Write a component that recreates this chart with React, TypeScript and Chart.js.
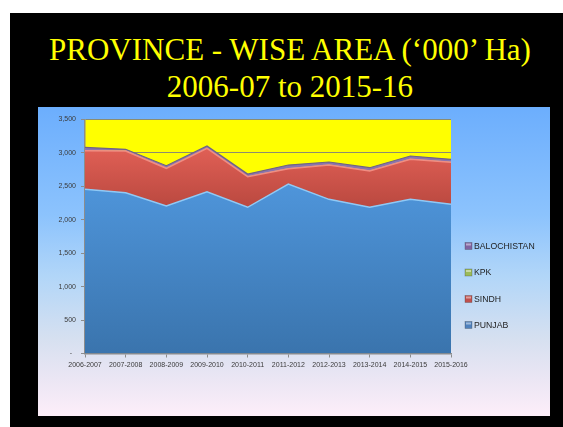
import React, { useEffect, useRef } from 'react';
import { Chart, registerables } from 'chart.js';

Chart.register(...registerables);

const categories = [
  '2006-2007', '2007-2008', '2008-2009', '2009-2010', '2010-2011',
  '2011-2012', '2012-2013', '2013-2014', '2014-2015', '2015-2016',
];
const punjab = [2456, 2405, 2206, 2420, 2187, 2535, 2306, 2187, 2306, 2231];
const sindh = [577, 624, 564, 649, 457, 228, 513, 543, 598, 629];
const kpk = [2, 2, 2, 2, 1, 2, 2, 2, 2, 2];
const balochistan = [48, 23, 37, 32, 40, 54, 43, 47, 48, 42];
const seriesNames = ['PUNJAB', 'SINDH', 'KPK', 'BALOCHISTAN'];
const legendColors = ['#4f81bd', '#c0504d', '#9bbb59', '#8064a2'];
const yMax = 3500;
const yStep = 500;
const titleLines = ['PROVINCE - WISE AREA (\u2018000\u2019 Ha)', '2006-07 to 2015-16'];

const FONT = '"Liberation Sans", Arial, sans-serif';

function vGrad(stops: [number, string][]) {
  return (ctx: any) => {
    const chart = ctx.chart;
    const area = chart.chartArea;
    if (!area) return stops[0][1];
    const g = chart.ctx.createLinearGradient(0, area.top, 0, area.bottom);
    stops.forEach(([o, c]) => g.addColorStop(o, c));
    return g;
  };
}

const plotBgPlugin = {
  id: 'plotBg',
  beforeDraw(chart: any) {
    const { ctx, chartArea } = chart;
    if (!chartArea) return;
    ctx.save();
    ctx.fillStyle = '#ffff00';
    ctx.fillRect(chartArea.left, chartArea.top, chartArea.right - chartArea.left, chartArea.bottom - chartArea.top);
    ctx.restore();
  },
};

const sideLegendPlugin = {
  id: 'sideLegend',
  afterDraw(chart: any) {
    const ctx = chart.ctx;
    const x = 427;
    const ys = [139, 165.5, 192, 218];
    const order = [3, 2, 1, 0];
    ctx.save();
    order.forEach((idx, i) => {
      const y = ys[i];
      ctx.fillStyle = legendColors[idx];
      ctx.fillRect(x, y - 3.5, 7, 7);
      ctx.fillStyle = 'rgba(255,255,255,0.45)';
      ctx.fillRect(x + 1, y - 2.5, 5, 2);
      ctx.strokeStyle = 'rgba(60,60,60,0.5)';
      ctx.lineWidth = 0.6;
      ctx.strokeRect(x, y - 3.5, 7, 7);
      ctx.fillStyle = '#1e1e1e';
      ctx.font = `8.7px ${FONT}`;
      ctx.textBaseline = 'middle';
      ctx.textAlign = 'left';
      ctx.fillText(seriesNames[idx], x + 9, y + 0.5);
    });
    ctx.restore();
  },
};

export default function App() {
  const ref = useRef<HTMLCanvasElement | null>(null);

  useEffect(() => {
    if (!ref.current) return;
    const chart = new Chart(ref.current, {
      type: 'line',
      data: {
        labels: categories,
        datasets: [
          {
            label: seriesNames[0],
            data: punjab,
            fill: 'origin',
            backgroundColor: vGrad([[0, '#5aa4ea'], [0.3, '#4e94d9'], [1, '#3a74ad']]),
            borderColor: '#8fc9f6',
            borderWidth: 1.5,
          },
          {
            label: seriesNames[1],
            data: sindh,
            fill: '-1',
            backgroundColor: vGrad([[0, '#e86c62'], [0.15, '#dc5d53'], [0.38, '#b9483f'], [1, '#a03a32']]),
            borderColor: '#f08c82',
            borderWidth: 1.5,
          },
          {
            label: seriesNames[2],
            data: kpk,
            fill: '-1',
            backgroundColor: '#9bbb59',
            borderColor: '#b5d07a',
            borderWidth: 0.8,
          },
          {
            label: seriesNames[3],
            data: balochistan,
            fill: '-1',
            backgroundColor: '#8a74ae',
            borderColor: '#6f6384',
            borderWidth: 1.2,
          },
        ],
      },
      options: {
        responsive: false,
        animation: false,
        devicePixelRatio: 1,
        layout: { padding: { top: 12.5, right: 99, left: 0, bottom: 0 } },
        elements: { point: { radius: 0 }, line: { tension: 0 } },
        plugins: { legend: { display: false }, tooltip: { enabled: false }, title: { display: false } },
        scales: {
          x: {
            offset: false,
            grid: { drawOnChartArea: false, drawTicks: true, tickLength: 4, color: '#8c8c8c' },
            border: { display: true, color: '#8c8c8c', width: 1.5 },
            ticks: {
              font: { family: FONT, size: 7 },
              color: '#3a3a3a',
              padding: 3,
              maxRotation: 0,
              autoSkip: false,
            },
            afterFit(scale: any) {
              scale.height = 62.5;
            },
          },
          y: {
            stacked: true,
            min: 0,
            max: yMax,
            grid: { color: '#8c8c70', tickLength: 4, tickColor: '#8c8c8c' },
            border: { display: true, color: '#8c8c8c', width: 1.5 },
            ticks: {
              stepSize: yStep,
              font: { family: FONT, size: 7 },
              color: '#3a3a3a',
              padding: 5,
              callback: (v: any) => (Number(v) === 0 ? '-  ' : Number(v).toLocaleString('en-US')),
            },
            afterFit(scale: any) {
              scale.width = 47;
            },
          },
        },
      },
      plugins: [plotBgPlugin, sideLegendPlugin],
    });
    return () => chart.destroy();
  }, []);

  return (
    <div style={{ position: 'fixed', left: 0, top: 0, width: 563, height: 427, background: '#ffffff', overflow: 'hidden' }}>
      <div style={{ position: 'absolute', left: 10, top: 13, width: 553, height: 414, background: '#000000' }} />
      {titleLines.map((t, i) => (
        <div
          key={i}
          style={{
            position: 'absolute',
            left: 10,
            width: 560,
            top: 34 + i * 37.4,
            lineHeight: '31px',
            height: 31,
            textAlign: 'center',
            whiteSpace: 'nowrap',
            fontFamily: '"Liberation Serif", "Times New Roman", serif',
            fontSize: 31,
            color: '#ffff00',
          }}
        >
          {t}
        </div>
      ))}
      <div
        style={{
          position: 'absolute',
          left: 38,
          top: 107,
          width: 512,
          height: 309,
          background: 'linear-gradient(to bottom, #6caefd 0%, #8cc3fd 35%, #b2d6f8 55%, #d6e0f0 75%, #ebe6f4 88%, #fdeef9 100%)',
        }}
      >
        <canvas ref={ref} width={512} height={309} style={{ display: 'block', width: 512, height: 309 }} />
      </div>
    </div>
  );
}
